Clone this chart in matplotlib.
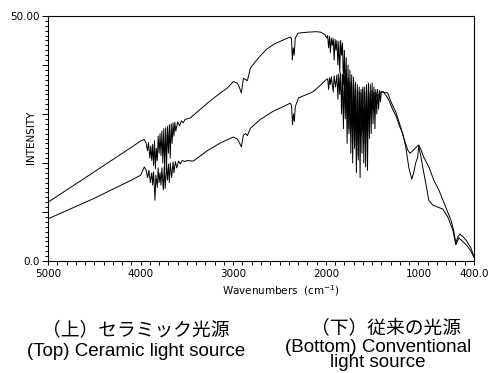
import matplotlib
matplotlib.use("Agg")
import matplotlib.pyplot as plt
from matplotlib.ticker import MultipleLocator, FixedLocator

# ---------------- data ----------------
# Top curve: ceramic light source
wn_top = [5000, 4500, 4100, 4000, 3960, 3940, 3925, 3915, 3900, 3890, 3880, 3870, 3860, 3850,
          3840, 3830, 3820, 3810, 3800, 3790, 3780, 3770, 3760, 3750, 3740, 3730, 3720, 3710,
          3700, 3690, 3680, 3670, 3660, 3650, 3640, 3630, 3620, 3600, 3580, 3560, 3540, 3520,
          3500, 3463, 3280, 3139, 3063, 3000, 2955, 2935, 2912, 2890, 2865, 2847, 2814, 2760,
          2706, 2640, 2565, 2450, 2385, 2370, 2362, 2352, 2342, 2330, 2300, 2198, 2100, 2057,
          2010, 1990, 1980, 1970, 1960, 1950, 1940, 1930, 1920, 1910, 1900, 1890, 1880, 1870,
          1860, 1850, 1840, 1830, 1820, 1810, 1800, 1790, 1780, 1770, 1760, 1750, 1740, 1730,
          1720, 1710, 1700, 1690, 1680, 1670, 1660, 1650, 1640, 1630, 1620, 1610, 1600, 1590,
          1580, 1570, 1560, 1550, 1540, 1530, 1520, 1510, 1500, 1490, 1480, 1470, 1460, 1450,
          1400, 1332, 1290, 1245, 1191, 1159, 1116, 1094, 1070, 1051, 1020, 997, 970, 943,
          888, 834, 780, 705, 650, 620, 596, 575, 553, 520, 488, 460, 434, 400]
int_top = [12.0, 18.2, 23.2, 24.5, 24.8, 24.0, 22.5, 24.2, 21.0, 23.5, 20.5, 23.8, 19.5, 24.5,
           18.8, 23.0, 20.5, 25.5, 22.0, 26.0, 21.5, 26.5, 20.0, 27.0, 18.6, 27.2, 19.5, 27.5,
           22.0, 27.8, 21.0, 28.0, 24.0, 28.2, 25.5, 28.3, 26.5, 28.4, 27.6, 28.6, 28.2, 28.9,
           29.0, 29.2, 32.2, 34.3, 35.3, 36.6, 36.3, 35.5, 34.3, 37.3, 37.0, 36.8, 39.4, 40.7,
           41.9, 43.2, 44.2, 45.2, 45.7, 45.4, 41.0, 43.5, 42.0, 45.5, 46.5, 46.7, 46.8, 46.7,
           46.2, 45.5, 46.0, 43.5, 45.8, 42.5, 45.5, 44.0, 45.4, 41.0, 45.2, 43.0, 45.0, 40.0,
           44.8, 38.5, 45.0, 42.0, 44.5, 36.0, 43.0, 34.0, 41.5, 30.0, 40.0, 27.0, 39.0, 31.0,
           38.0, 24.7, 37.5, 28.0, 36.5, 22.0, 36.0, 20.6, 35.5, 26.0, 35.0, 27.0, 35.5, 24.0,
           34.5, 19.2, 34.8, 26.0, 35.0, 29.0, 34.5, 30.0, 34.8, 31.0, 34.5, 32.0, 34.4, 33.5,
           34.5, 34.3, 32.2, 30.4, 27.3, 25.1, 22.7, 22.0, 22.3, 22.7, 23.3, 23.7, 22.6, 21.2,
           19.2, 16.5, 14.5, 11.0, 8.4, 6.3, 3.7, 4.9, 5.5, 5.0, 4.3, 3.5, 2.7, 0.8]

# Bottom curve: conventional light source
wn_bot = [5000, 4500, 4100, 4000, 3960, 3940, 3925, 3910, 3895, 3880, 3870, 3860, 3845, 3835,
          3820, 3810, 3800, 3790, 3780, 3770, 3755, 3745, 3735, 3720, 3710, 3700, 3690, 3680,
          3665, 3650, 3640, 3625, 3610, 3590, 3570, 3550, 3520, 3500, 3431, 3280, 3139, 3000,
          2955, 2935, 2912, 2890, 2865, 2847, 2814, 2706, 2565, 2450, 2385, 2370, 2360, 2350,
          2340, 2330, 2295, 2165, 2133, 2057, 2003, 1980, 1970, 1960, 1950, 1940, 1920, 1910,
          1895, 1880, 1870, 1860, 1850, 1840, 1830, 1820, 1810, 1800, 1790, 1780, 1770, 1760,
          1750, 1740, 1730, 1720, 1710, 1700, 1690, 1680, 1670, 1660, 1650, 1640, 1630, 1620,
          1610, 1600, 1590, 1580, 1570, 1560, 1550, 1540, 1530, 1520, 1510, 1500, 1490, 1480,
          1470, 1460, 1450, 1440, 1430, 1420, 1410, 1400, 1375, 1340, 1321, 1280, 1240, 1200,
          1170, 1137, 1105, 1072, 1051, 1030, 1008, 997, 975, 954, 921, 888, 845, 791, 737,
          683, 629, 596, 564, 510, 470, 434, 400]
int_bot = [8.6, 12.8, 16.5, 17.5, 19.2, 18.5, 17.0, 18.5, 16.0, 18.0, 15.5, 18.2, 12.4, 17.5,
           15.0, 19.0, 16.0, 18.0, 15.5, 19.0, 14.5, 19.3, 14.8, 19.5, 16.5, 19.8, 16.0, 20.0,
           17.0, 20.2, 18.0, 20.3, 19.0, 20.4, 19.8, 20.5, 20.3, 20.5, 20.4, 22.5, 24.1, 25.3,
           24.9, 24.2, 23.3, 25.7, 26.0, 25.6, 27.1, 28.9, 30.6, 31.6, 32.2, 31.8, 27.8, 30.0,
           28.5, 31.5, 33.3, 34.3, 34.6, 35.9, 36.9, 37.2, 35.0, 37.4, 36.0, 37.6, 34.5, 37.8,
           35.5, 38.0, 33.0, 38.2, 34.0, 38.4, 30.0, 38.0, 27.0, 37.8, 29.0, 37.5, 24.0, 37.3,
           26.0, 36.5, 22.0, 36.0, 20.0, 35.5, 23.0, 35.0, 18.0, 34.8, 21.5, 34.5, 17.0, 34.3,
           22.0, 35.0, 20.0, 35.5, 24.0, 36.0, 18.5, 36.3, 25.0, 36.0, 26.0, 36.3, 28.0, 35.5,
           27.0, 35.0, 30.0, 35.0, 31.0, 34.8, 32.5, 34.6, 34.5, 33.5, 32.9, 31.0, 29.5, 27.3,
           26.1, 23.3, 19.2, 16.7, 18.0, 20.0, 21.2, 23.4, 21.5, 19.2, 15.9, 12.4, 11.4, 11.0, 10.6,
           9.0, 6.3, 3.3, 4.7, 3.8, 3.0, 2.0, 0.8]

x_ticks = [5000, 4000, 3000, 2000, 1000, 400]
x_tick_labels = ["5000", "4000", "3000", "2000", "1000", "400.0"]
y_ticks = [0, 10, 20, 30, 40, 50]
y_tick_labels = ["0.0", "", "", "", "", "50.00"]

caption_top_ja = "（上）セラミック光源"
caption_top_en = "(Top) Ceramic light source"
caption_bot_ja = "（下）従来の光源"
caption_bot_en = "(Bottom) Conventional\nlight source"

# ---------------- figure ----------------
W, H = 489, 373
fig = plt.figure(figsize=(W / 100, H / 100), dpi=100)
ax = fig.add_axes([48 / W, 1 - 261 / H, (474 - 48) / W, (261 - 16) / H])

ax.plot(wn_top, int_top, color="black", lw=0.7)
ax.plot(wn_bot, int_bot, color="black", lw=0.7)

ax.set_xlim(5000, 400)
ax.set_ylim(0, 50)

tick_font = dict(family=["DejaVu Sans"], size=7.5)

ax.xaxis.set_major_locator(FixedLocator(x_ticks))
ax.set_xticklabels(x_tick_labels, **tick_font)
ax.xaxis.set_minor_locator(MultipleLocator(100))
ax.yaxis.set_major_locator(FixedLocator(y_ticks))
ax.set_yticklabels(y_tick_labels, **tick_font)
ax.yaxis.set_minor_locator(MultipleLocator(1))

ax.tick_params(axis="x", which="major", direction="out", length=3, width=0.7, pad=3)
ax.tick_params(axis="x", which="minor", direction="out", length=3, width=0.7)
ax.tick_params(axis="y", which="major", direction="out", length=4, width=0.7, pad=2)
ax.tick_params(axis="y", which="minor", direction="out", length=2.5, width=0.7)
for s in ax.spines.values():
    s.set_linewidth(0.8)

fig.text(31 / W, 1 - 137 / H, "INTENSITY", rotation=90, ha="center", va="center",
         family=["DejaVu Sans"], size=7.5)
fig.text(281 / W, 1 - 291 / H, "Wavenumbers  (cm$^{-1}$)", ha="center", va="center",
         family=["DejaVu Sans"], size=7.5)

ja_font = dict(family=["Noto Sans CJK JP", "DejaVu Sans"], size=13.5)
en_font = dict(family=["Liberation Sans", "DejaVu Sans"], size=13.5)
fig.text(136 / W, 1 - 330 / H, caption_top_ja, ha="center", va="center", **ja_font)
fig.text(136 / W, 1 - 351 / H, caption_top_en, ha="center", va="center", **en_font)
fig.text(386 / W, 1 - 329 / H, caption_bot_ja, ha="center", va="center", **ja_font)
fig.text(378 / W, 1 - 355 / H, caption_bot_en, ha="center", va="center",
         linespacing=0.88, **en_font)

fig.savefig("out.png", dpi=100)
